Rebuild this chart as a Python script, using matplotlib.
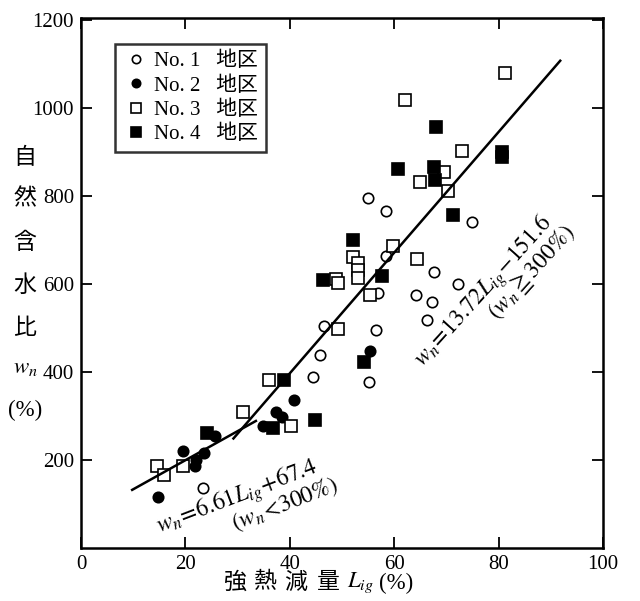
import numpy as np
import matplotlib
matplotlib.use("Agg")
import matplotlib.pyplot as plt

plt.rcParams['font.family'] = ['Liberation Serif', 'Noto Sans CJK JP']
plt.rcParams['mathtext.fontset'] = 'stix'

# No.1 地区 (open circles)
x1 = [55.0, 58.4, 74.9, 58.4, 67.6, 72.2, 64.2, 67.2, 66.3, 56.9, 46.6, 56.5, 45.8, 44.4, 55.2, 23.4]
y1 = [795, 766, 741, 664, 627, 600, 575, 559, 518, 580, 505, 495, 439, 389, 377, 136]
# No.2 地区 (filled circles)
x2 = [14.8, 19.5, 22.0, 21.8, 23.6, 25.7, 40.8, 37.4, 38.5, 34.9, 55.4]
y2 = [116, 220, 200, 186, 216, 255, 336, 309, 298, 277, 448]
# No.3 地区 (open squares)
x3 = [14.6, 15.9, 19.5, 31.0, 36.0, 49.2, 40.2, 81.2, 62.1, 73.0, 69.5, 64.9,
      70.3, 59.8, 52.1, 53.0, 53.0, 53.0, 64.4, 48.9, 49.2, 55.4]
y3 = [186, 166, 186, 309, 382, 498, 277, 1080, 1018, 902, 855, 832,
      811, 686, 661, 648, 632, 614, 657, 611, 602, 575]
# No.4 地区 (filled squares)
x4 = [68.0, 80.7, 80.7, 60.7, 67.6, 67.8, 71.3, 52.1, 57.7, 46.4, 54.2, 44.8, 24.1, 38.9, 36.8]
y4 = [957, 900, 889, 861, 866, 836, 757, 700, 618, 609, 423, 291, 261, 382, 272]

# regression lines: slope, intercept, x range
line_a = (6.61, 67.4, 9.8, 33.5)
line_b = (13.72, -151.6, 29.2, 91.8)

fig = plt.figure(figsize=(6.4, 6.01), dpi=100)
ax = fig.add_axes([0.1266, 0.0882, 0.8156, 0.8818])

ms = 7.5
ax.plot(x1, y1, 'o', mfc='white', mec='black', mew=1.2, ms=ms, ls='none', label='No. 1   地区')
ax.plot(x2, y2, 'o', mfc='black', mec='black', mew=1.2, ms=ms, ls='none', label='No. 2   地区')
ax.plot(x3, y3, 's', mfc='white', mec='black', mew=1.2, ms=ms + 1, ls='none', label='No. 3   地区')
ax.plot(x4, y4, 's', mfc='black', mec='black', mew=1.2, ms=ms + 1, ls='none', label='No. 4   地区')

for k, b, xs, xe in (line_a, line_b):
    xx = np.array([xs, xe])
    ax.plot(xx, k * xx + b, color='black', lw=1.8)

ax.set_xlim(0, 100)
ax.set_ylim(0, 1205)
ax.set_xticks([0, 20, 40, 60, 80, 100])
ax.set_yticks([200, 400, 600, 800, 1000, 1200])
ax.tick_params(direction='in', length=8, width=1.3, top=True, right=True,
               labelsize=15, pad=5)
for s in ax.spines.values():
    s.set_linewidth(1.8)

leg = ax.legend(loc='upper left', bbox_to_anchor=(0.065, 0.951), borderaxespad=0,
                fontsize=15, frameon=True, fancybox=False, edgecolor='black',
                handletextpad=0.2, labelspacing=0.22, borderpad=0.38,
                handlelength=1.3, markerscale=0.8)
leg.get_frame().set_linewidth(1.8)

# equation labels
ax.text(30.0, 116, r'$w_n\!=\!6.61L_{ig}\!+\!67.4$', fontsize=17, rotation=21,
        ha='center', va='center')
ax.text(39.0, 100, r'$(w_n\!<\!300\%)$', fontsize=17, rotation=21,
        ha='center', va='center')
ax.text(77.2, 582, r'$w_n\!=\!13.72L_{ig}\!-\!151.6$', fontsize=17, rotation=48,
        ha='center', va='center')
ax.text(86.3, 628, r'$(w_n \geqq 300\%)$', fontsize=17, rotation=48,
        ha='center', va='center')

# vertical y label
ylab = ['自', '然', '含', '水', '比', r'$w_n$', '(%)']
ypix = [158, 200, 243, 286, 328, 367, 410]
for t, yp in zip(ylab, ypix):
    fig.text(25 / 640, 1 - yp / 601, t, fontsize=16.5, ha='center', va='center')

# x label
xlab = ['強', '熱', '減', '量', r'$L_{ig}$', '(%)']
xpix = [235, 265, 296, 328, 360, 396]
for t, xp in zip(xlab, xpix):
    fig.text(xp / 640, 1 - 583 / 601, t, fontsize=16.5, ha='center', va='center')

fig.savefig('out.png', dpi=100)
